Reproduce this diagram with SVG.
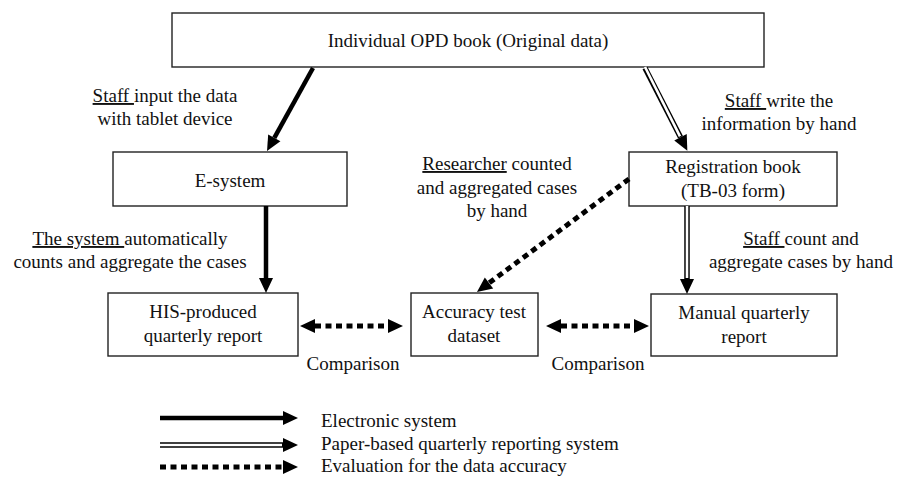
<svg xmlns="http://www.w3.org/2000/svg" width="898" height="477" viewBox="0 0 898 477">
<style>
text{font-family:"Liberation Serif","Times New Roman",serif;font-size:19px;fill:#111;text-anchor:middle}
.l{text-anchor:start}
.u{text-decoration:underline}
.box{fill:#fff;stroke:#222;stroke-width:1.4}
.solid{fill:none;stroke:#000;stroke-width:4.5}
.dbl{fill:none;stroke:#000;stroke-width:5.5}
.dblin{fill:none;stroke:#fff;stroke-width:2.6}
.dot{fill:none;stroke:#000;stroke-width:5;stroke-dasharray:6 4.5}
</style>
<defs>
<marker id="ah" markerUnits="userSpaceOnUse" markerWidth="16" markerHeight="14" refX="0" refY="7" orient="auto-start-reverse" overflow="visible">
<path d="M0,0 L15,7 L0,14 z" fill="#000"/>
</marker>
</defs>
<rect width="898" height="477" fill="#fff"/>

<g id="opd"><rect class="box" x="172" y="13" width="592" height="54"/><text x="468" y="47">Individual OPD book (Original data)</text></g>
<g id="esystem"><rect class="box" x="113" y="152" width="234" height="54"/><text x="230" y="187">E-system</text></g>
<g id="registration"><rect class="box" x="629" y="152" width="208" height="54"/><text x="733" y="173">Registration book</text><text x="733" y="197">(TB-03 form)</text></g>
<g id="his"><rect class="box" x="108" y="293" width="190" height="63"/><text x="203" y="318">HIS-produced</text><text x="203" y="342">quarterly report</text></g>
<g id="accuracy"><rect class="box" x="411" y="293" width="127" height="63"/><text x="474" y="318">Accuracy test</text><text x="474" y="342">dataset</text></g>
<g id="manual"><rect class="box" x="651" y="294" width="186" height="62"/><text x="744" y="319">Manual quarterly</text><text x="744" y="343">report</text></g>

<g id="labels">
<text x="165" y="102"><tspan class="u">Staff </tspan>input the data</text>
<text x="165" y="125">with tablet device</text>
<text x="779" y="107"><tspan class="u">Staff </tspan>write the</text>
<text x="779" y="130">information by hand</text>
<text x="497" y="170"><tspan class="u">Researcher</tspan> counted</text>
<text x="497" y="194">and aggregated cases</text>
<text x="497" y="217">by hand</text>
<text x="130" y="245"><tspan class="u">The system </tspan>automatically</text>
<text x="130" y="268">counts and aggregate the cases</text>
<text x="801" y="245"><tspan class="u">Staff </tspan>count and</text>
<text x="801" y="268">aggregate cases by hand</text>
<text x="353" y="370">Comparison</text>
<text x="598" y="370">Comparison</text>
</g>

<g id="connectors">
<path class="solid" d="M313,68 L274.3,137.9" marker-end="url(#ah)"/>
<path class="solid" d="M266,206 L266,278" marker-end="url(#ah)"/>
<path class="dbl" d="M645,68 L680.5,137.3" marker-end="url(#ah)"/>
<path class="dblin" d="M645,67 L680,136.3"/>
<path class="dbl" d="M687,206 L687,279" marker-end="url(#ah)"/>
<path class="dblin" d="M687,206 L687,278"/>
<path class="dot" d="M629,179 L489,283" marker-end="url(#ah)"/>
<path class="dot" d="M315,326 L388,326" marker-start="url(#ah)" marker-end="url(#ah)"/>
<path class="dot" d="M561,326 L634,326" marker-start="url(#ah)" marker-end="url(#ah)"/>
</g>

<g id="legend">
<path class="solid" d="M160,418 L283,418" marker-end="url(#ah)"/>
<path class="dbl" d="M160,445 L283,445" marker-end="url(#ah)"/>
<path class="dblin" d="M160,445 L282,445"/>
<path class="dot" d="M160,467 L283,467" marker-end="url(#ah)"/>
<text class="l" x="321" y="427">Electronic system</text>
<text class="l" x="321" y="450">Paper-based quarterly reporting system</text>
<text class="l" x="321" y="472">Evaluation for the data accuracy</text>
</g>
</svg>
